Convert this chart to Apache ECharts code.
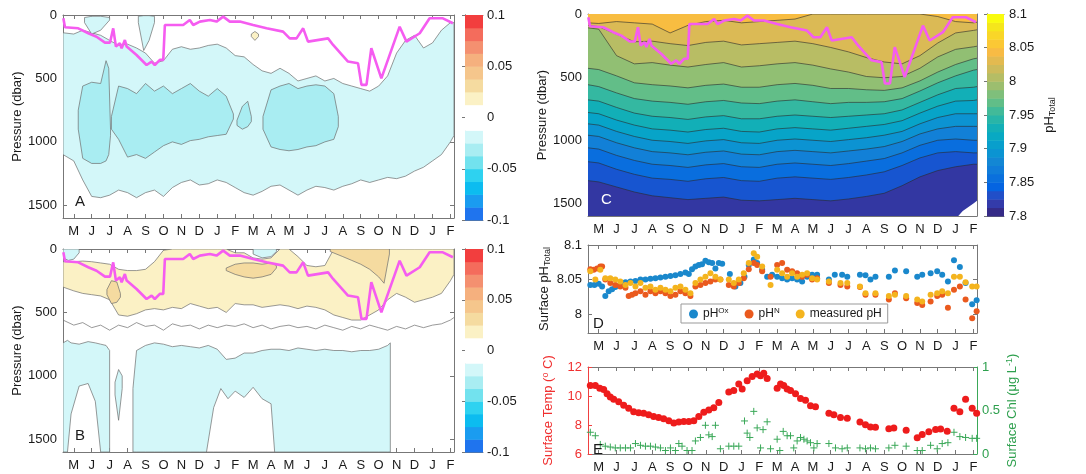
<!DOCTYPE html>
<html><head><meta charset="utf-8">
<script src="https://cdn.jsdelivr.net/npm/echarts@6/dist/echarts.min.js"></script>
<style>html,body{margin:0;padding:0;background:#fff}#c{width:1086px;height:474px}</style>
</head><body><div id="c"></div>
<script>
// ---------------- DATA ----------------
const monthLabels = ['M','J','J','A','S','O','N','D','J','F','M','A','M','J','J','A','S','O','N','D','J','F'];
const monthTicks = [0,1,2,3,4,5,6,7,8,9,10,11,12,13,14,15,16,17,18,19,20,21];

// mixed-layer line (months since May 1, dbar)
const mldX = [-0.58,-0.49,0.25,0.81,1.27,1.74,2.02,2.20,2.35,2.57,2.67,2.85,2.95,3.50,4.06,4.34,4.52,4.80,4.99,5.08,6.10,6.47,6.66,7.03,7.59,7.96,8.33,8.70,9.26,10.0,10.75,11.67,12.04,12.42,12.79,13.06,14.18,14.46,15.29,15.85,16.04,16.32,16.59,17.15,17.24,18.17,18.55,19.29,19.84,20.58,21.14];
const mldD = [26,97,105,144,171,218,218,105,249,223,262,197,249,315,394,367,394,354,354,79,79,39,79,52,39,52,13,52,52,79,105,131,184,184,105,210,184,236,367,381,551,551,262,499,486,92,210,144,26,26,65];

// half-month sampling for anomaly sections
const xsHalf = [-0.6,0,0.5,1,1.5,2,2.5,3,3.5,4,4.5,5,5.5,6,6.5,7,7.5,8,8.5,9,9.5,10,10.5,11,11.5,12,12.5,13,13.5,14,14.5,15,15.5,16,16.5,17,17.5,18,18.5,19,19.5,20,20.5,21,21.2];
// Panel A: -0.025..-0.0125 band limits
const aTop = [140,150,120,140,160,200,240,230,260,300,380,360,270,250,270,260,240,230,260,320,330,390,440,460,420,460,520,500,480,520,500,540,560,580,600,560,480,300,200,160,260,220,120,60,60];
const aBot = [1100,1150,1300,1430,1440,1420,1380,1400,1440,1400,1380,1430,1360,1320,1300,1340,1330,1300,1320,1360,1400,1420,1390,1350,1340,1380,1420,1380,1350,1360,1380,1350,1330,1300,1320,1300,1280,1290,1270,1230,1200,1150,1100,1000,950];
// Panel A: darker cores (-0.0375..-0.025)
const aCore1X = [0.25,0.5,1.0,1.5,1.8,1.95,2.05], aCore1Top = [750,560,530,540,360,420,900], aCore1Bot = [900,1130,1170,1170,1150,1100,950];
const aCore2X = [2.1,2.5,3,3.5,4,4.5,5,5.5,6,6.5,7,7.5,8,8.5,8.9], aCore2Top = [800,560,580,620,540,600,560,620,580,540,600,640,580,640,780], aCore2Bot = [900,980,1120,1100,1130,1080,1030,1000,1020,990,980,960,950,940,820];
const aCore3X = [9.1,9.4,9.7,9.9], aCore3Top = [830,720,680,800], aCore3Bot = [870,900,880,840];
const aCore4X = [10.55,11,11.5,12,12.5,13,13.5,14,14.5,14.75], aCore4Top = [800,590,560,540,580,560,550,560,620,800], aCore4Bot = [900,1040,1060,1070,1060,1040,1030,1000,980,880];
const aPatch1X = [0.6,1,1.5,2.0], aPatch1Top = [20,10,10,20], aPatch1Bot = [60,150,120,40];
const aPatch2X = [3.6,3.9,4.2,4.5], aPatch2Top = [10,5,5,10], aPatch2Bot = [60,280,200,60];
const aPosX = [9.9,10.1,10.3], aPosTop = [150,130,150], aPosBot = [170,200,170];

// Panel B
const bYelTop = [100,100,95,100,110,120,160,170,170,160,100,10,0,0,0,0,0,0,0,30,30,70,80,70,0,0,60,130,140,130,0,0,0,0,0,0,0,0,0,0,0,0,0,0,0];
const bYelBot = [300,330,350,360,370,400,520,530,510,480,470,480,460,470,430,450,470,460,500,430,440,440,460,450,440,450,470,450,460,480,520,540,560,560,520,480,400,350,380,420,400,380,350,250,200];
const bZero = [560,600,580,620,600,640,600,620,580,610,600,640,590,610,600,630,600,620,600,610,590,620,600,630,610,600,620,610,630,600,620,640,610,630,600,620,640,610,630,600,620,600,590,560,540];
const bTan1X = [8.5,9,9.5,10,10.5,11,11.3], bTan1Top = [150,120,110,110,120,110,130], bTan1Bot = [170,200,220,230,220,200,150];
const bTan2X = [14.3,15,15.5,16,16.5,17,17.3,17.6], bTan2Top = [0,0,0,0,0,0,0,0], bTan2Bot = [20,60,90,120,160,220,270,40];
const bTan3X = [1.85,2.1,2.4,2.6], bTan3Top = [320,250,260,350], bTan3Bot = [360,430,420,380];
const bCyanLX = [-0.6,-0.35,-0.15,0.3,0.8,1.2,1.5,1.8,2.0], bCyanLTop = [740,720,740,750,730,740,750,760,800], bCyanLBot = [1600,1600,1300,1080,1060,1200,1600,1600,1600];
const bSliverX = [2.3,2.5,2.7], bSliverTop = [1050,950,1000], bSliverBot = [1150,1350,1100];
const bCyanX = [3.3,3.5,4,4.5,5,5.5,6,6.5,7,7.5,8,8.5,9,9.5,10,10.5,11,11.5,12,12.5,13,13.5,14,14.5,15,15.5,16,16.5,17,17.5,17.65];
const bCyanTop = [1100,800,760,740,750,770,760,770,780,760,790,870,860,820,820,800,790,790,800,780,790,800,790,800,800,810,800,800,790,760,740];
const bHoleX = [7.4,7.8,8.2,8.6,9,9.5,10,10.5,11,11.2], bHoleTop = [1600,1250,1100,1180,1120,1170,1090,1180,1220,1600];
const bTopCyanX = [-0.6,-0.3,0,0.3], bTopCyanBot = [70,90,80,30];
const bTopCyan2X = [10,10.5,11,11.3], bTopCyan2Bot = [40,70,60,20];

// Panel C: depth (dbar) of each pH contour at monthly positions
const cX = [-0.6,0,1,2,3,4,5,6,7,8,9,10,11,12,13,14,15,16,17,18,19,20,21,21.2];
const c804 = [70,75,60,70,80,150,90,60,50,70,60,50,40,0,0,0,0,0,0,0,20,60,70,65];
const c802 = [90,100,160,220,215,235,250,225,215,245,235,225,215,235,265,300,345,380,395,330,230,150,130,125];
const c800 = [110,120,330,395,385,405,420,400,385,420,410,395,385,405,435,460,495,505,495,430,340,280,260,255];
const c798 = [430,440,490,545,560,570,585,565,555,580,580,560,550,565,590,590,600,605,585,530,460,400,355,350];
const c796 = [560,575,625,670,690,700,715,695,685,705,710,690,680,695,710,700,700,695,670,610,545,490,445,440];
const c794 = [680,690,740,785,810,820,835,815,805,830,830,810,800,810,820,810,800,790,760,700,640,590,580,575];
const c792 = [780,790,840,880,910,920,935,915,905,930,935,910,900,910,920,905,890,875,845,785,730,690,685,680];
const c790 = [870,880,930,970,1000,1010,1025,1005,995,1020,1025,1000,990,1000,1010,995,980,960,930,870,820,790,790,790];
const c788 = [960,970,1020,1060,1090,1100,1115,1095,1085,1110,1115,1090,1080,1090,1100,1085,1070,1050,1010,950,910,890,890,890];
const c786 = [1060,1070,1120,1160,1190,1200,1215,1195,1185,1210,1215,1190,1180,1190,1200,1185,1165,1145,1100,1040,1000,990,1000,1000];
const c784 = [1170,1180,1230,1270,1300,1310,1325,1305,1295,1320,1325,1300,1290,1300,1310,1295,1275,1250,1200,1140,1100,1090,1100,1100];
const c782 = [1320,1330,1370,1410,1440,1455,1470,1460,1450,1475,1480,1470,1460,1470,1480,1465,1445,1420,1360,1290,1240,1210,1190,1190];
const cLevels = [8.04,8.02,8.00,7.98,7.96,7.94,7.92,7.90,7.88,7.86,7.84,7.82];
const cDepths = [c804,c802,c800,c798,c796,c794,c792,c790,c788,c786,c784,c782];
const cGapX = [20.15,20.4,20.7,21.0,21.2], cGapTop = [1600,1560,1530,1500,1480];

// Panel D: surface pH
const phOx = [[-0.47,8.042],[-0.24,8.042],[0,8.044],[0.19,8.040],[0.37,8.026],[0.56,8.033],[0.75,8.036],[0.93,8.039],[1.21,8.042],[1.5,8.046],[1.78,8.047],[2.06,8.048],[2.34,8.050],[2.62,8.050],[2.9,8.051],[3.18,8.052],[3.46,8.053],[3.74,8.054],[4.02,8.055],[4.3,8.056],[4.58,8.058],[4.86,8.060],[5.05,8.058],[5.23,8.065],[5.42,8.069],[5.61,8.071],[5.79,8.072],[5.98,8.077],[6.17,8.075],[6.36,8.074],[6.54,8.066],[6.73,8.074],[6.92,8.073],[7.35,8.058],[7.66,8.040],[7.94,8.045],[8.17,8.054],[8.41,8.071],[8.69,8.079],[8.88,8.074],[9.16,8.064],[9.44,8.054],[9.72,8.057],[10.0,8.054],[10.28,8.052],[10.56,8.050],[10.84,8.052],[11.12,8.050],[11.4,8.047],[11.68,8.054],[11.96,8.057],[12.24,8.057],[12.9,8.050],[13.23,8.057],[13.64,8.057],[13.93,8.054],[14.64,8.057],[14.95,8.056],[15.23,8.050],[15.51,8.054],[16.26,8.054],[16.6,8.063],[17.23,8.062],[17.85,8.054],[18.13,8.057],[18.6,8.059],[18.97,8.062],[19.25,8.057],[19.57,8.047],[19.91,8.078],[20.24,8.068],[20.56,8.045],[20.93,8.014],[21.18,8.020]];
const phN = [[-0.47,8.065],[-0.28,8.064],[-0.09,8.066],[0.09,8.069],[0.19,8.069],[0.37,8.050],[0.65,8.045],[0.93,8.042],[1.21,8.040],[1.5,8.038],[1.68,8.026],[1.87,8.028],[2.06,8.030],[2.34,8.033],[2.62,8.028],[2.9,8.033],[3.18,8.030],[3.46,8.033],[3.74,8.030],[4.02,8.026],[4.3,8.028],[4.58,8.033],[4.86,8.030],[5.14,8.026],[5.42,8.040],[5.7,8.042],[5.98,8.045],[6.26,8.047],[6.54,8.050],[6.82,8.050],[7.29,8.042],[7.57,8.040],[7.85,8.045],[8.13,8.052],[8.41,8.065],[8.69,8.074],[8.88,8.071],[9.16,8.062],[9.63,8.054],[10.0,8.071],[10.28,8.074],[10.56,8.064],[10.84,8.062],[11.12,8.059],[11.4,8.054],[11.68,8.057],[11.96,8.050],[12.24,8.052],[12.9,8.045],[13.55,8.042],[13.93,8.040],[14.64,8.039],[14.95,8.028],[15.51,8.028],[16.26,8.021],[16.6,8.030],[17.23,8.023],[17.85,8.016],[18.13,8.013],[18.6,8.018],[18.97,8.026],[19.25,8.028],[19.57,8.009],[19.91,8.035],[20.24,8.040],[20.56,8.021],[20.93,7.994],[21.18,8.004]];
const phMeas = [[-0.47,8.062],[-0.19,8.050],[0.09,8.064],[0.37,8.052],[0.65,8.052],[0.93,8.050],[1.21,8.047],[1.5,8.042],[1.78,8.045],[2.06,8.040],[2.34,8.045],[2.62,8.038],[2.9,8.040],[3.18,8.035],[3.46,8.038],[3.74,8.035],[4.02,8.033],[4.3,8.038],[4.58,8.040],[4.86,8.035],[5.14,8.030],[5.42,8.045],[5.7,8.050],[5.98,8.054],[6.26,8.059],[6.54,8.054],[6.82,8.050],[7.29,8.050],[7.57,8.045],[7.85,8.050],[8.13,8.059],[8.41,8.074],[8.69,8.088],[8.88,8.083],[9.16,8.069],[9.63,8.042],[10.0,8.064],[10.28,8.059],[10.56,8.054],[10.84,8.059],[11.12,8.054],[11.4,8.057],[11.68,8.059],[11.96,8.052],[12.24,8.050],[12.9,8.047],[13.55,8.045],[13.93,8.045],[14.64,8.040],[14.95,8.030],[15.51,8.030],[16.26,8.026],[16.6,8.028],[17.23,8.026],[17.85,8.021],[18.13,8.018],[18.6,8.028],[18.97,8.030],[19.25,8.033],[19.57,8.030],[19.91,8.054],[20.24,8.054],[20.56,8.046],[20.93,8.040],[21.18,8.040]];

// Panel E
const sst = [[-0.47,10.72],[-0.19,10.72],[0.06,10.54],[0.28,10.45],[0.47,10.16],[0.65,9.93],[0.84,9.78],[1.12,9.6],[1.40,9.37],[1.68,9.15],[1.96,8.92],[2.24,8.85],[2.52,8.81],[2.80,8.7],[3.08,8.58],[3.36,8.52],[3.64,8.43],[3.93,8.29],[4.21,8.13],[4.49,8.2],[4.77,8.25],[5.05,8.25],[5.33,8.29],[5.61,8.58],[5.89,8.88],[6.17,9.03],[6.45,9.19],[6.73,9.55],[7.29,10.27],[7.57,10.38],[7.85,10.83],[8.04,10.49],[8.32,11.06],[8.60,11.35],[8.88,11.51],[9.07,11.39],[9.25,11.57],[9.44,11.21],[10.0,10.54],[10.19,10.83],[10.37,10.72],[10.56,10.49],[10.75,10.38],[11.03,10.16],[11.31,9.82],[11.59,9.71],[11.87,9.33],[12.15,9.26],[12.9,8.81],[13.18,8.7],[13.55,8.52],[13.93,8.47],[14.64,8.2],[14.95,8.02],[15.23,7.87],[15.51,7.84],[16.26,7.75],[16.54,7.8],[17.23,7.64],[17.85,7.12],[18.13,7.35],[18.50,7.53],[18.88,7.69],[19.16,7.73],[19.53,7.57],[19.91,9.15],[20.24,8.92],[20.56,9.78],[20.93,9.15],[21.18,8.81]];
const chl = [[-0.47,0.25],[-0.19,0.21],[0.09,0.11],[0.37,0.09],[0.65,0.08],[0.93,0.07],[1.21,0.07],[1.5,0.07],[1.78,0.07],[2.06,0.12],[2.34,0.10],[2.62,0.09],[2.9,0.09],[3.18,0.08],[3.46,0.07],[3.74,0.04],[4.02,0.07],[4.3,0.04],[4.49,0.12],[4.67,0.09],[4.95,0.04],[5.23,0.04],[5.42,0.15],[5.7,0.19],[5.98,0.33],[6.17,0.22],[6.36,0.20],[6.54,0.33],[6.82,0.06],[7.29,0.09],[7.57,0.09],[7.85,0.09],[8.17,0.38],[8.32,0.24],[8.47,0.19],[8.69,0.49],[8.88,0.30],[9.07,0.07],[9.21,0.28],[9.44,0.37],[9.63,0.06],[10.0,0.17],[10.15,0.04],[10.34,0.26],[10.56,0.21],[10.75,0.21],[10.93,0.07],[11.12,0.15],[11.31,0.19],[11.5,0.17],[11.68,0.15],[11.87,0.13],[12.06,0.07],[12.24,0.12],[12.9,0.12],[13.27,0.07],[13.64,0.06],[13.93,0.07],[14.64,0.07],[14.95,0.06],[15.23,0.07],[15.51,0.06],[16.26,0.07],[16.6,0.10],[17.23,0.09],[17.85,0.04],[18.13,0.04],[18.6,0.10],[18.97,0.06],[19.25,0.12],[19.57,0.13],[19.91,0.25],[20.24,0.20],[20.56,0.19],[20.93,0.18],[21.18,0.18]];

// colour scales
const anomColors = ['#1f74ee','#1a9cf0','#0cbcf0','#2ed2f0','#72e2ee','#a9edf2','#d3f7f9','#ffffff','#ffffff','#fbf1c5','#f5dba0','#f5c68c','#f5b07e','#f49070','#f46c5c','#f23e3e'];
const parulaStops = ['#352A87','#3243BA','#0363E1','#0D75DC','#1485D4','#0998D1','#06A7C6','#15B1B4','#38B99E','#65BE86','#92BF73','#B7BD64','#D9BA56','#F8BB44','#FCCE2E','#F5E41D','#F9FB0E'];
const parulaIdx = [0,4,8,12,16,20,24,28,32,36,40,44,48,52,56,60,63];

// ---------------- HELPERS ----------------
function hex2rgb(h){return [parseInt(h.slice(1,3),16),parseInt(h.slice(3,5),16),parseInt(h.slice(5,7),16)];}
function parula(t){
  const p=Math.max(0,Math.min(1,t))*63; let k=0; while(k<parulaIdx.length-2 && p>parulaIdx[k+1]) k++;
  const f=(p-parulaIdx[k])/(parulaIdx[k+1]-parulaIdx[k]);
  const a=hex2rgb(parulaStops[k]), b=hex2rgb(parulaStops[k+1]);
  return 'rgb('+a.map((v,i)=>Math.round(v+(b[i]-v)*f)).join(',')+')';
}
function phColor(v){return parula((v-7.8)/0.3);}
const FONT = 'Liberation Sans, Arial, Helvetica, sans-serif';
const AX = '#777';

function poly(x, top, bot, fill){return {x, top, bot, fill};}
const CY1 = anomColors[6], CY2 = anomColors[5], YE1 = anomColors[9], YE2 = anomColors[10];

const polysA = [
  poly(xsHalf, aTop, aBot, CY1),
  poly(aCore1X, aCore1Top, aCore1Bot, CY2),
  poly(aCore2X, aCore2Top, aCore2Bot, CY2),
  poly(aCore3X, aCore3Top, aCore3Bot, CY2),
  poly(aCore4X, aCore4Top, aCore4Bot, CY2),
  poly(aPatch1X, aPatch1Top, aPatch1Bot, CY1),
  poly(aPatch2X, aPatch2Top, aPatch2Bot, CY1),
  poly(aPosX, aPosTop, aPosBot, YE1)
];
const polysB = [
  poly(xsHalf, bYelTop, bYelBot, YE1),
  poly(bTan1X, bTan1Top, bTan1Bot, YE2),
  poly(bTan2X, bTan2Top, bTan2Bot, YE2),
  poly(bTan3X, bTan3Top, bTan3Bot, YE2),
  poly(bCyanLX, bCyanLTop, bCyanLBot, CY1),
  poly(bSliverX, bSliverTop, bSliverBot, CY1),
  poly(bCyanX, bCyanTop, 1600, CY1),
  poly(bHoleX, bHoleTop, 1600, '#ffffff'),
  poly(bTopCyanX, 0, bTopCyanBot, CY1),
  poly(bTopCyan2X, 0, bTopCyan2Bot, CY1)
];

function polySeries(polys, xi, yi, stroke){
  return {type:'custom', xAxisIndex:xi, yAxisIndex:yi, clip:true, silent:true, animation:false, z:2,
    data: polys.map((p,i)=>[i]),
    renderItem:function(params, api){
      const p = polys[params.dataIndex]; const pts=[];
      const val=(a,i)=> (typeof a==='number')?a:a[i];
      for(let i=0;i<p.x.length;i++) pts.push(api.coord([p.x[i], val(p.top,i)]));
      for(let i=p.x.length-1;i>=0;i--) pts.push(api.coord([p.x[i], val(p.bot,i)]));
      return {type:'polygon', shape:{points:pts}, style:{fill:p.fill, stroke:stroke, lineWidth:0.7}};
    }};
}

function contourSeriesC(xi, yi){
  return {type:'custom', xAxisIndex:xi, yAxisIndex:yi, clip:true, silent:true, animation:false, z:2,
    data: cLevels.map((l,i)=>[i]),
    renderItem:function(params, api){
      const k = params.dataIndex; const d = cDepths[k];
      const line=[]; for(let i=0;i<cX.length;i++) line.push(api.coord([cX[i], d[i]]));
      const fillPts = line.concat([api.coord([cX[cX.length-1],1700]), api.coord([cX[0],1700])]);
      return {type:'group', children:[
        {type:'polygon', shape:{points:fillPts}, style:{fill:phColor(cLevels[k]-0.01), stroke:null}},
        {type:'polyline', shape:{points:line}, style:{stroke:'#2a2a2a', lineWidth:0.6, fill:null}}
      ]};
    }};
}
function cBackground(xi, yi){
  return {type:'custom', xAxisIndex:xi, yAxisIndex:yi, clip:true, silent:true, animation:false, z:1,
    data:[[0]],
    renderItem:function(params, api){
      const a=api.coord([-0.6,0]), b=api.coord([21.2,1600]);
      return {type:'rect', shape:{x:a[0],y:a[1],width:b[0]-a[0],height:b[1]-a[1]}, style:{fill:phColor(cLevels[0]+0.01)}};
    }};
}

function colorbarSeries(xi, yi, lows, step, colorFn){
  return {type:'custom', xAxisIndex:xi, yAxisIndex:yi, silent:true, animation:false,
    data: lows.map(v=>[v]),
    renderItem:function(params, api){
      const lo=api.value(0); const a=api.coord([0, lo+step]), b=api.coord([1, lo]);
      return {type:'rect', shape:{x:a[0], y:a[1], width:b[0]-a[0], height:b[1]-a[1]+0.5}, style:{fill:colorFn(params.dataIndex)}};
    }};
}

function timeAxis(grid, pos, showLabel){
  return {type:'value', gridIndex:grid, position:pos, min:-0.6, max:21.2,
    axisLine:{show:true, onZero:false, lineStyle:{color:AX, width:1}},
    axisTick:{show:true, inside:true, length:4, customValues:monthTicks, lineStyle:{color:AX}},
    axisLabel:{show:showLabel, customValues:monthTicks, formatter:v=>monthLabels[Math.round(v)], color:'#1a1a1a', fontSize:13, fontFamily:FONT, margin:7},
    splitLine:{show:false}};
}
function cbX(grid, pos){return {type:'value', gridIndex:grid, position:pos, min:0, max:1,
  axisLine:{show:true, onZero:false, lineStyle:{color:AX}}, axisTick:{show:false}, axisLabel:{show:false}, splitLine:{show:false}};}
function presAxis(grid, pos, showLabel){
  return {type:'value', gridIndex:grid, position:pos, inverse:true, min:0, max:1600,
    axisLine:{show:true, onZero:false, lineStyle:{color:AX}},
    axisTick:{show:true, inside:true, length:4, customValues:[0,500,1000,1500], lineStyle:{color:AX}},
    axisLabel:{show:showLabel, customValues:[0,500,1000,1500], formatter:v=>String(v), color:'#1a1a1a', fontSize:13, fontFamily:FONT, margin:6},
    splitLine:{show:false},
    name: showLabel?'Pressure (dbar)':'', nameLocation:'middle', nameGap:38, nameRotate:90,
    nameTextStyle:{color:'#1a1a1a', fontSize:13, fontFamily:FONT}};
}
function fmt(v){return String(+(+v).toFixed(3));}
function cbLeft(grid, mn, mx){return {type:'value', gridIndex:grid, position:'left', min:mn, max:mx,
  axisLine:{show:true, onZero:false, lineStyle:{color:AX}}, axisTick:{show:false}, axisLabel:{show:false}, splitLine:{show:false}};}
function anomCbAxis(grid){
  return {type:'value', gridIndex:grid, position:'right', min:-0.1, max:0.1,
    axisLine:{show:true, lineStyle:{color:AX}},
    axisTick:{show:true, inside:true, length:3, customValues:[-0.1,-0.05,0,0.05,0.1], lineStyle:{color:AX}},
    axisLabel:{customValues:[-0.1,-0.05,0,0.05,0.1], formatter:fmt, color:'#1a1a1a', fontSize:13, fontFamily:FONT, margin:4},
    splitLine:{show:false}};
}

const anomLows = anomColors.map((c,i)=>-0.1+0.0125*i);
const phLows = []; for(let i=0;i<24;i++) phLows.push(7.8+0.0125*i);

const mldData = mldX.map((x,i)=>[x, mldD[i]]);
function mldSeries(xi, yi){
  return {type:'line', xAxisIndex:xi, yAxisIndex:yi, data:mldData, showSymbol:false, symbol:'none', z:10, silent:true, animation:false,
    lineStyle:{color:'#f55cf0', width:2.6}, clip:true};
}
const bZeroData = xsHalf.map((x,i)=>[x, bZero[i]]);

const chart = echarts.init(document.getElementById('c'), null, {renderer:'canvas'});
const option = {
  backgroundColor:'#ffffff',
  animation:false,
  textStyle:{fontFamily:FONT},
  grid:[
    {left:63, top:15, width:391, height:203},
    {left:465, top:15, width:18, height:205},
    {left:63, top:249, width:391, height:203},
    {left:465, top:249, width:18, height:203},
    {left:588, top:14, width:389, height:202},
    {left:987, top:14, width:17, height:202},
    {left:588, top:245, width:389, height:88},
    {left:588, top:367, width:389, height:90}
  ],
  xAxis:[
    timeAxis(0,'bottom',true), timeAxis(0,'top',false), cbX(1,'bottom'),
    timeAxis(2,'bottom',true), timeAxis(2,'top',false), cbX(3,'bottom'),
    timeAxis(4,'bottom',true), timeAxis(4,'top',false), cbX(5,'bottom'),
    timeAxis(6,'bottom',true), timeAxis(6,'top',false),
    timeAxis(7,'bottom',true), timeAxis(7,'top',false),
    cbX(1,'top'), cbX(3,'top'), cbX(5,'top')
  ],
  yAxis:[
    presAxis(0,'left',true), presAxis(0,'right',false), anomCbAxis(1),
    presAxis(2,'left',true), presAxis(2,'right',false), anomCbAxis(3),
    presAxis(4,'left',true), presAxis(4,'right',false),
    {type:'value', gridIndex:5, position:'right', min:7.8, max:8.1,
      axisLine:{show:true, lineStyle:{color:AX}},
      axisTick:{show:true, inside:true, length:3, customValues:[7.8,7.85,7.9,7.95,8,8.05,8.1], lineStyle:{color:AX}},
      axisLabel:{customValues:[7.8,7.85,7.9,7.95,8,8.05,8.1], formatter:fmt, color:'#1a1a1a', fontSize:13, fontFamily:FONT, margin:5},
      splitLine:{show:false},
      name:'{a|pH}{s|Total}', nameLocation:'middle', nameGap:38, nameRotate:90,
      nameTextStyle:{rich:{a:{fontSize:13, color:'#1a1a1a', fontFamily:FONT}, s:{fontSize:9, color:'#1a1a1a', fontFamily:FONT, verticalAlign:'bottom', padding:[6,0,0,0]}}}},
    {type:'value', gridIndex:6, position:'left', min:7.9725, max:8.1,
      axisLine:{show:true, onZero:false, lineStyle:{color:AX}},
      axisTick:{show:true, inside:true, length:4, customValues:[8,8.05,8.1], lineStyle:{color:AX}},
      axisLabel:{customValues:[8,8.05,8.1], formatter:fmt, color:'#1a1a1a', fontSize:13, fontFamily:FONT, margin:6},
      splitLine:{show:false},
      name:'{a|Surface pH}{s|Total}', nameLocation:'middle', nameGap:36, nameRotate:90,
      nameTextStyle:{rich:{a:{fontSize:13, color:'#1a1a1a', fontFamily:FONT}, s:{fontSize:9, color:'#1a1a1a', fontFamily:FONT, verticalAlign:'bottom', padding:[6,0,0,0]}}}},
    {type:'value', gridIndex:6, position:'right', min:7.9725, max:8.1,
      axisLine:{show:true, onZero:false, lineStyle:{color:AX}},
      axisTick:{show:true, inside:true, length:4, customValues:[8,8.05,8.1], lineStyle:{color:AX}},
      axisLabel:{show:false}, splitLine:{show:false}},
    {type:'value', gridIndex:7, position:'left', min:6, max:12, interval:2,
      axisLine:{show:true, onZero:false, lineStyle:{color:'#f04040'}},
      axisTick:{show:true, inside:true, length:4, lineStyle:{color:'#f04040'}},
      axisLabel:{color:'#f03030', fontSize:13, fontFamily:FONT, margin:6},
      splitLine:{show:false},
      name:'{a|Surface Temp (}{p|o}{a| C)}', nameLocation:'middle', nameGap:32, nameRotate:90,
      nameTextStyle:{rich:{a:{fontSize:13, color:'#f03030', fontFamily:FONT}, p:{fontSize:9, color:'#f03030', fontFamily:FONT, verticalAlign:'top', padding:[0,0,6,0]}}}},
    {type:'value', gridIndex:7, position:'right', min:0, max:1, interval:0.5,
      axisLine:{show:true, onZero:false, lineStyle:{color:'#3aa858'}},
      axisTick:{show:true, inside:true, length:4, lineStyle:{color:'#3aa858'}},
      axisLabel:{color:'#2ea04e', fontSize:13, fontFamily:FONT, margin:5, formatter:fmt},
      splitLine:{show:false},
      name:'{a|Surface Chl (\u03bcg L}{p|-1}{a|)}', nameLocation:'middle', nameGap:28, nameRotate:90,
      nameTextStyle:{rich:{a:{fontSize:13, color:'#2ea04e', fontFamily:FONT}, p:{fontSize:9, color:'#2ea04e', fontFamily:FONT, verticalAlign:'top', padding:[0,0,6,0]}}}},
    cbLeft(1,-0.1,0.1), cbLeft(3,-0.1,0.1), cbLeft(5,7.8,8.1)
  ],
  legend:{show:true, left:681, top:304, orient:'horizontal', itemWidth:9, itemHeight:9, itemGap:16,
    backgroundColor:'#ffffff', borderColor:'#999', borderWidth:1, padding:[3,6,3,8],
    data:[{name:'pHOx', icon:'circle'},{name:'pHN', icon:'circle'},{name:'measured pH', icon:'circle'}],
    formatter:function(n){ if(n==='pHOx') return '{a|pH}{p|Ox}'; if(n==='pHN') return '{a|pH}{p|N}'; return '{a|measured pH}'; },
    textStyle:{rich:{a:{fontSize:12, color:'#1a1a1a', fontFamily:FONT}, p:{fontSize:8, color:'#1a1a1a', fontFamily:FONT, verticalAlign:'top', padding:[0,0,6,0]}}}},
  graphic:[
    {type:'text', left:75, top:194, style:{text:'A', font:'15px '+FONT, fill:'#1a1a1a'}, z:100},
    {type:'text', left:75, top:428, style:{text:'B', font:'15px '+FONT, fill:'#1a1a1a'}, z:100},
    {type:'text', left:601, top:192, style:{text:'C', font:'15px '+FONT, fill:'#ffffff'}, z:100},
    {type:'text', left:593, top:316, style:{text:'D', font:'15px '+FONT, fill:'#1a1a1a'}, z:100},
    {type:'text', left:593, top:442, style:{text:'E', font:'15px '+FONT, fill:'#1a1a1a'}, z:100}
  ],
  series:[
    polySeries(polysA, 0, 0, '#6d6d6d'),
    mldSeries(0, 0),
    colorbarSeries(2, 2, anomLows, 0.0125, i=>anomColors[i]),
    polySeries(polysB, 3, 3, '#6d6d6d'),
    {type:'line', xAxisIndex:3, yAxisIndex:3, data:bZeroData, symbol:'none', silent:true, z:3, lineStyle:{color:'#6d6d6d', width:0.7}},
    mldSeries(3, 3),
    colorbarSeries(5, 5, anomLows, 0.0125, i=>anomColors[i]),
    cBackground(6, 6),
    contourSeriesC(6, 6),
    polySeries([poly(cGapX, cGapTop, 1600, '#ffffff')], 6, 6, null),
    mldSeries(6, 6),
    colorbarSeries(8, 8, phLows, 0.0125, i=>parula(i/23)),
    {name:'pHOx', type:'scatter', xAxisIndex:9, yAxisIndex:9, data:phOx, symbolSize:6, itemStyle:{color:'#1a88cc', opacity:1}, z:3},
    {name:'pHN', type:'scatter', xAxisIndex:9, yAxisIndex:9, data:phN, symbolSize:6, itemStyle:{color:'#ea5a1e', opacity:1}, z:4},
    {name:'measured pH', type:'scatter', xAxisIndex:9, yAxisIndex:9, data:phMeas, symbolSize:6, itemStyle:{color:'#f4b41e', opacity:1}, z:5},
    {name:'sst', type:'scatter', xAxisIndex:11, yAxisIndex:11, data:sst, symbolSize:7, itemStyle:{color:'#ee1c1c', opacity:1}, z:4},
    {name:'chl', type:'scatter', xAxisIndex:11, yAxisIndex:12, data:chl, symbol:'path://M5,0 L5,10 M0,5 L10,5', symbolSize:7, itemStyle:{color:'rgba(0,0,0,0)', borderColor:'#3aa858', borderWidth:1, opacity:1}, z:3}
  ]
};
chart.setOption(option);
</script></body></html>
